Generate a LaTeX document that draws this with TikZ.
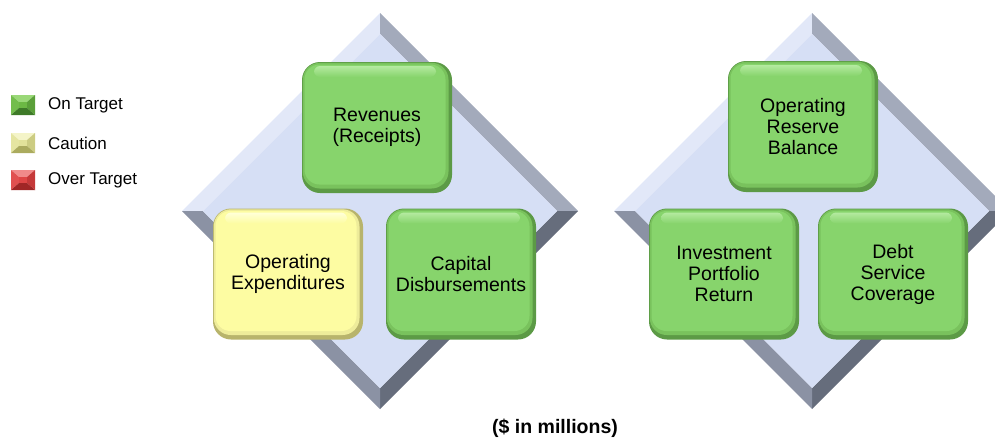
\documentclass[tikz,border=0pt]{standalone}
\usepackage{fontspec}
\setmainfont{Liberation Sans}
\definecolor{dTL}{HTML}{E2E8F8}
\definecolor{dTR}{HTML}{A3AABB}
\definecolor{dBR}{HTML}{666D7C}
\definecolor{dBL}{HTML}{8B92A4}
\definecolor{dFace}{HTML}{D6DFF5}
\definecolor{gEdge}{HTML}{5C9A46}
\definecolor{gMid}{HTML}{79C25D}
\definecolor{gMain}{HTML}{87D46C}
\definecolor{gLight}{HTML}{B4EAA0}
\definecolor{yEdge}{HTML}{B8B46C}
\definecolor{yMid}{HTML}{EEEC9A}
\definecolor{yMain}{HTML}{FDFCA2}
\definecolor{yLight}{HTML}{FFFFD8}
\definecolor{lgG}{HTML}{6CB844}
\definecolor{lgGl}{HTML}{9AD878}
\definecolor{lgGd}{HTML}{3E7A28}
\definecolor{lgY}{HTML}{E2E29A}
\definecolor{lgYl}{HTML}{F4F4C8}
\definecolor{lgYd}{HTML}{ABAB5E}
\definecolor{lgR}{HTML}{DE4646}
\definecolor{lgRl}{HTML}{F08A8A}
\definecolor{lgRd}{HTML}{A02626}
\tikzset{
  kpibox/.style n args={4}{draw=none, fill=#1, rounded corners=18pt,
    minimum width=150pt, minimum height=131pt, inner sep=0pt, align=center,
    font=\fontsize{19.5}{21}\selectfont, text=black,
    path picture={
      \fill[#2, rounded corners=17pt]
        ([xshift=0.8pt,yshift=4.5pt]path picture bounding box.south west) rectangle
        ([xshift=-3.5pt,yshift=-0.8pt]path picture bounding box.north east);
      \fill[#3, rounded corners=15pt]
        ([xshift=2.5pt,yshift=8.5pt]path picture bounding box.south west) rectangle
        ([xshift=-6.5pt,yshift=-2.5pt]path picture bounding box.north east);
      \shade[top color=#4, bottom color=#3, rounded corners=6pt]
        ([xshift=12pt,yshift=-4pt]path picture bounding box.north west) rectangle
        ([xshift=-16pt,yshift=-15pt]path picture bounding box.north east);
    }},
  greenkpi/.style={kpibox={gEdge}{gMid}{gMain}{gLight}},
  yellowkpi/.style={kpibox={yEdge}{yMid}{yMain}{yLight}},
  legendtext/.style={anchor=west, inner sep=0pt, font=\fontsize{17}{20}\selectfont},
  titletext/.style={inner sep=0pt, font=\bfseries\fontsize{19.5}{21}\selectfont}
}
\newcommand\bevdiamond[2]{%
  \begin{scope}[shift={(#1,#2)}]
    \fill[dTL] (-198,0) -- (0,-198) -- (0,-177) -- (-177,0) -- cycle;
    \fill[dTR] (0,-198) -- (198,0) -- (177,0) -- (0,-177) -- cycle;
    \fill[dBR] (198,0) -- (0,198) -- (0,177) -- (177,0) -- cycle;
    \fill[dBL] (0,198) -- (-198,0) -- (-177,0) -- (0,177) -- cycle;
    \fill[dFace] (-177,0) -- (0,-177) -- (177,0) -- (0,177) -- cycle;
  \end{scope}}
\newcommand\legendpyr[5]{%
  \begin{scope}[shift={(#1,#2)}]
    \fill[#3] (-12,-10) -- (12,-10) -- (4,-3) -- (-4,-3) -- cycle;
    \fill[#4!85!#3] (-12,-10) -- (-4,-3) -- (-4,3) -- (-12,10) -- cycle;
    \fill[#4!60!#5] (12,-10) -- (12,10) -- (4,3) -- (4,-3) -- cycle;
    \fill[#5] (-12,10) -- (12,10) -- (4,3) -- (-4,3) -- cycle;
    \fill[#4] (-4,-3) rectangle (4,3);
  \end{scope}}
\begin{document}
\begin{tikzpicture}[x=1pt,y=-1pt]
  \useasboundingbox (0,0) rectangle (995,437);
  \begin{scope}
    \clip (0,0) rectangle (995,437);
    \bevdiamond{380}{211}
    \bevdiamond{812}{211}
  \end{scope}

  % left group
  \node[greenkpi]  (rev)  at (377,127.5) {Revenues\\(Receipts)};
  \node[yellowkpi] (opex) at (288,274) {Operating\\Expenditures};
  \node[greenkpi]  (cap)  at (461,274) {Capital\\Disbursements};

  % right group
  \node[greenkpi] (res)  at (803,126.5) {Operating\\Reserve\\Balance};
  \node[greenkpi] (inv)  at (724,274) {Investment\\Portfolio\\Return};
  \node[greenkpi] (debt) at (893,274) {Debt\\Service\\Coverage};

  % legend
  \legendpyr{23}{105}{lgGl}{lgG}{lgGd}
  \legendpyr{23}{143}{lgYl}{lgY}{lgYd}
  \legendpyr{23}{180}{lgRl}{lgR}{lgRd}
  \node[legendtext] (lg1) at (48,105) {On Target};
  \node[legendtext] (lg2) at (48,143) {Caution};
  \node[legendtext] (lg3) at (48,180) {Over Target};

  \node[titletext] (title) at (555,428) {(\$ in millions)};
\end{tikzpicture}
\end{document}
